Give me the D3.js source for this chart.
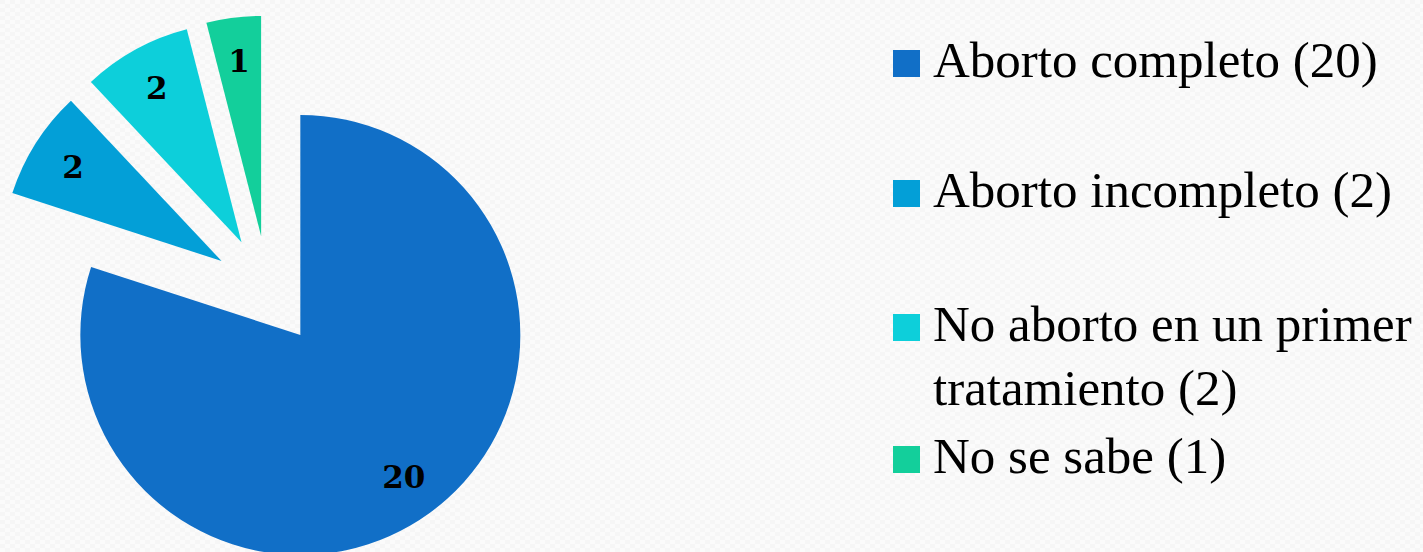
<!DOCTYPE html>
<html>
<head>
<meta charset="utf-8">
<script src="https://cdn.jsdelivr.net/npm/d3@7"></script>
<style>
  html, body { margin: 0; padding: 0; background: #fbfbfb; }
  svg { display: block; }
</style>
</head>
<body>
<svg id="chart" width="1423" height="552"></svg>
<script>
// Resultado del tratamiento
const categories = ["Aborto completo", "Aborto incompleto", "No aborto en un primer tratamiento", "No se sabe"];
const values = [20, 2, 2, 1];
const legendLines = [
  ["Aborto completo (20)"],
  ["Aborto incompleto (2)"],
  ["No aborto en un primer", "tratamiento (2)"],
  ["No se sabe (1)"]
];
const colors = ["#116fc7", "#039fd7", "#0dcfda", "#13cf9b"];

const svg = d3.select("#chart");
const W = 1423, H = 552;

// faint textured backdrop
const defs = svg.append("defs");
const pat = defs.append("pattern").attr("id", "bg").attr("width", 10).attr("height", 8)
  .attr("patternUnits", "userSpaceOnUse");
pat.append("rect").attr("width", 10).attr("height", 8).attr("fill", "#fbfbfb");
pat.append("rect").attr("x", 0).attr("y", 0).attr("width", 5).attr("height", 4).attr("fill", "#f6f6f6");
pat.append("rect").attr("x", 5).attr("y", 4).attr("width", 5).attr("height", 4).attr("fill", "#f6f6f6");
svg.append("rect").attr("width", W).attr("height", H).attr("fill", "url(#bg)");

// pie geometry: every slice pulled out along its mid-angle
const cx = 268, cy = 290.5, radius = 220, explode = 55, labelR = 176;

const pie = d3.pie().sort(null).value(d => d);
const arcs = pie(values);
const arc = d3.arc().innerRadius(0).outerRadius(radius);

const g = svg.append("g").attr("transform", `translate(${cx},${cy})`);

function offset(d, dist) {
  const a = (d.startAngle + d.endAngle) / 2;
  return [Math.sin(a) * dist, -Math.cos(a) * dist];
}

const slices = g.selectAll("g.slice").data(arcs).join("g")
  .attr("class", "slice")
  .attr("transform", d => { const [x, y] = offset(d, explode); return `translate(${x},${y})`; });

slices.append("path")
  .attr("d", arc)
  .attr("fill", (d, i) => colors[i]);

slices.append("text")
  .attr("x", d => offset(d, labelR)[0])
  .attr("y", d => offset(d, labelR)[1] + 11)
  .attr("text-anchor", "middle")
  .attr("font-family", "'DejaVu Serif', 'Liberation Serif', serif")
  .attr("font-size", 31)
  .attr("font-weight", "bold")
  .attr("fill", "#000")
  .text(d => d.value);

// legend
const legendX = 893, sw = 27;
const baselines = [77, 207, 341, 473];
const lineGap = 64;
const legend = svg.append("g");
const items = legend.selectAll("g").data(legendLines).join("g")
  .attr("transform", (d, i) => `translate(${legendX},${baselines[i]})`);
items.append("rect")
  .attr("x", 0).attr("y", -sw).attr("width", sw).attr("height", sw)
  .attr("fill", (d, i) => colors[i]);
items.each(function(lines) {
  const t = d3.select(this).append("text")
    .attr("font-family", "'Liberation Serif', 'DejaVu Serif', serif")
    .attr("font-size", 51)
    .attr("fill", "#000");
  lines.forEach((ln, k) => {
    t.append("tspan").attr("x", 40).attr("y", k * lineGap).text(ln);
  });
});
</script>
</body>
</html>
